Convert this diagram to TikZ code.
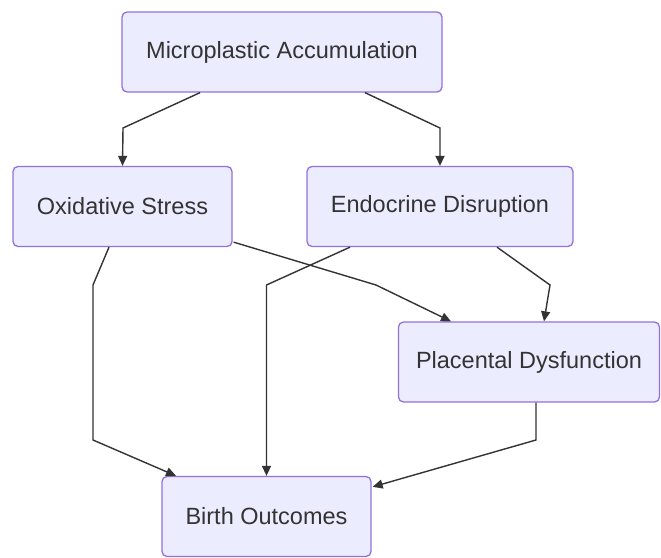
\documentclass[tikz,border=0pt]{standalone}
\usepackage{fontspec}
\setmainfont{Liberation Sans}
\usetikzlibrary{arrows.meta}
\definecolor{boxfill}{HTML}{ECECFF}
\definecolor{boxline}{HTML}{9370DB}
\definecolor{ink}{HTML}{333333}
\tikzset{
  box/.style={draw=boxline, fill=boxfill, line width=1.3pt, rounded corners=5pt,
    text=ink, font=\fontsize{23.5}{28}\selectfont, inner sep=0pt, minimum height=80pt},
  link/.style={draw=ink, line width=1.4pt, -{Triangle[length=10pt,width=9pt]}}
}
\begin{document}
\begin{tikzpicture}[x=1pt,y=-1pt]
\useasboundingbox (0,0) rectangle (661,557);
\node[box, minimum width=320pt] (ma) at (282,52) {Microplastic Accumulation};
\node[box, minimum width=219pt] (ox) at (122.5,206.5) {Oxidative Stress};
\node[box, minimum width=266pt] (en) at (440,206.5) {Endocrine Disruption};
\node[box, minimum width=261pt] (pl) at (529,362) {Placental Dysfunction};
\node[box, minimum width=209pt] (bo) at (266.5,516.5) {Birth Outcomes};
\coordinate (b1) at (123,128);
\coordinate (b2) at (440,128);
\coordinate (b3) at (93,285);
\coordinate (b4) at (93,440);
\coordinate (b5) at (266.5,285);
\coordinate (b6) at (376,285);
\coordinate (b7) at (550,285);
\coordinate (b8) at (536,440);
\draw[link] ([xshift=-82pt]ma.south) -- (b1) -- (ox.north);
\draw[link] ([xshift=83pt]ma.south) -- (b2) -- (en.north);
\draw[link] ([xshift=-13.5pt]ox.south) -- (b3) -- (b4) -- ([xshift=-90.5pt]bo.north);
\draw[link] ([xshift=-90pt]en.south) -- (b5) -- (bo.north);
\draw[link] ([xshift=1pt,yshift=5pt]ox.south east) -- (b6) -- ([xshift=-78pt]pl.north);
\draw[link] ([xshift=57pt]en.south) -- (b7) -- ([xshift=15pt]pl.north);
\draw[link] ([xshift=7pt]pl.south) -- (b8) -- ([xshift=1pt,yshift=-11pt]bo.north east);
\end{tikzpicture}
\end{document}
